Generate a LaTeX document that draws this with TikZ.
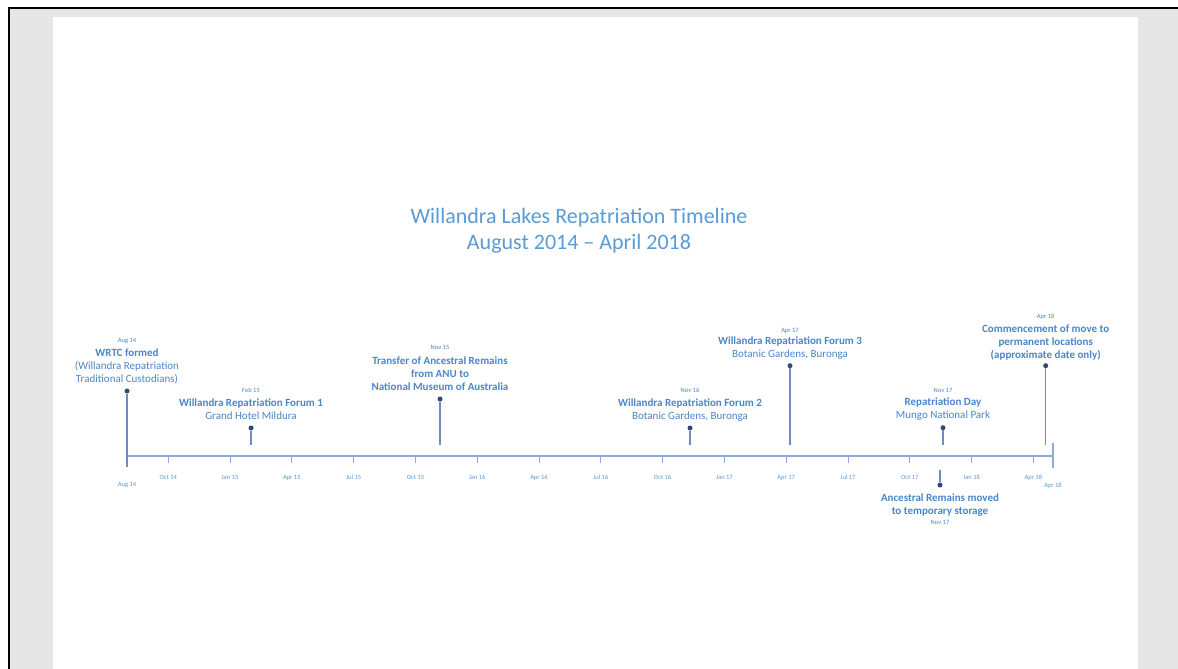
\documentclass[tikz,border=0pt]{standalone}
\usepackage{fontspec}
\setmainfont{Carlito}
\definecolor{titleblue}{HTML}{5B9BD5}
\definecolor{evblue}{HTML}{4A86C8}
\definecolor{axisblue}{HTML}{8FAADC}
\definecolor{stemblue}{HTML}{6F8CBF}
\definecolor{dotblue}{HTML}{2F4A7A}
\definecolor{pagegray}{HTML}{E6E6E6}
\begin{document}
\begin{tikzpicture}[x=1pt,y=-1pt,
  title/.style={font=\fontsize{22}{25.5}\selectfont, text=titleblue, align=center, inner sep=0pt, anchor=north},
  evtext/.style={font=\fontsize{11}{13}\selectfont, text=evblue, align=center, inner sep=0pt, anchor=north},
  evdate/.style={font=\fontsize{6.5}{8}\selectfont, text=evblue, inner sep=0pt, anchor=base},
  ticklab/.style={font=\fontsize{6.5}{8}\selectfont, text=titleblue, inner sep=0pt, anchor=base},
  dot/.style={circle, fill=dotblue, inner sep=0pt, minimum size=5pt},
  stem/.style={draw=stemblue, line width=1.5pt},
  axis/.style={draw=axisblue, line width=1.4pt},
  tickmark/.style={draw=axisblue, line width=1pt}]
\useasboundingbox (0,0) rectangle (1178,669);
% window, grey surround and white page
\fill[white] (0,0) rectangle (1178,669);
\fill[pagegray] (8,8) rectangle (1178,669);
\fill[white] (53,17) rectangle (1138,669);
\draw[black, line width=2pt] (8.5,669) -- (8.5,8.5) -- (1178,8.5);

% heading
\node[title] (heading) at (579,205.7) {\strut Willandra Lakes Repatriation Timeline\\August 2014 -- April 2018};

% time axis: Aug 14 (x=127) to end of Apr 18, 20.6 units per month
\coordinate (axStart) at (127,456);
\coordinate (axEnd) at (1053,456);
\draw[axis] (axStart) -- (axEnd);
\coordinate (endTop) at (1053,443);
\coordinate (endBot) at (1053,468);
\draw[axis] (endTop) -- (endBot);
\foreach \m/\lab [count=\i] in {2/Oct 14,5/Jan 15,8/Apr 15,11/Jul 15,14/Oct 15,17/Jan 16,20/Apr 16,23/Jul 16,26/Oct 16,29/Jan 17,32/Apr 17,35/Jul 17,38/Oct 17,41/Jan 18,44/Apr 18}{
  \coordinate (tk\i) at ({127+20.6*\m},456);
  \coordinate (tb\i) at ({127+20.6*\m},462.5);
  \draw[tickmark] (tk\i) -- (tb\i);
  \node[ticklab] (tl\i) at ({127+20.6*\m},479) {\lab};
}
\node[ticklab] (startLab) at (127,486) {Aug 14};
\node[ticklab] (endLab) at (1053,487) {Apr 18};

% Aug 14
\node[evdate] (e1date) at (127,342.7) {Aug 14};
\node[evtext] (e1text) at (127,346.9) {\strut\textbf{WRTC formed}\\(Willandra Repatriation\\Traditional Custodians)};
\node[dot] (e1) at (127,391) {};
\coordinate (e1b) at (127,467);
\draw[stem] (e1) -- (e1b);

% Feb 15
\node[evdate] (e2date) at (251,392.7) {Feb 15};
\node[evtext] (e2text) at (251,396.9) {\strut\textbf{Willandra Repatriation Forum 1}\\Grand Hotel Mildura};
\node[dot] (e2) at (251,428) {};
\coordinate (e2b) at (251,445);
\draw[stem] (e2) -- (e2b);

% Nov 15
\node[evdate] (e3date) at (440,349) {Nov 15};
\node[evtext] (e3text) at (440,354.9) {\strut\textbf{Transfer of Ancestral Remains}\\\textbf{from ANU to}\\\textbf{National Museum of Australia}};
\node[dot] (e3) at (440,399) {};
\coordinate (e3b) at (440,445);
\draw[stem] (e3) -- (e3b);

% Nov 16
\node[evdate] (e4date) at (690,392.7) {Nov 16};
\node[evtext] (e4text) at (690,396.9) {\strut\textbf{Willandra Repatriation Forum 2}\\Botanic Gardens, Buronga};
\node[dot] (e4) at (690,428) {};
\coordinate (e4b) at (690,445);
\draw[stem] (e4) -- (e4b);

% Apr 17
\node[evdate] (e5date) at (790,332) {Apr 17};
\node[evtext] (e5text) at (790,335.6) {\strut\textbf{Willandra Repatriation Forum 3}\\Botanic Gardens, Buronga};
\node[dot] (e5) at (790,365.7) {};
\coordinate (e5b) at (790,445);
\draw[stem] (e5) -- (e5b);

% Nov 17, above the axis
\node[evdate] (e6date) at (943,392) {Nov 17};
\node[evtext] (e6text) at (943,396.6) {\strut\textbf{Repatriation Day}\\Mungo National Park};
\node[dot] (e6) at (943,427.7) {};
\coordinate (e6b) at (943,445);
\draw[stem] (e6) -- (e6b);

% Apr 18
\node[evdate] (e7date) at (1045.7,318.8) {Apr 18};
\node[evtext] (e7text) at (1045.7,322.9) {\strut\textbf{Commencement of move to}\\\textbf{permanent locations}\\\textbf{(approximate date only)}};
\node[dot] (e7) at (1045.7,365.7) {};
\coordinate (e7b) at (1045.7,445);
\draw[stem] (e7) -- (e7b);

% Nov 17, below the axis
\coordinate (e8t) at (940,470);
\node[dot] (e8) at (940,485) {};
\draw[stem] (e8t) -- (e8);
\node[evtext] (e8text) at (940,491.9) {\strut\textbf{Ancestral Remains moved}\\\textbf{to temporary storage}};
\node[evdate] (e8date) at (940,524.7) {Nov 17};
\end{tikzpicture}
\end{document}
